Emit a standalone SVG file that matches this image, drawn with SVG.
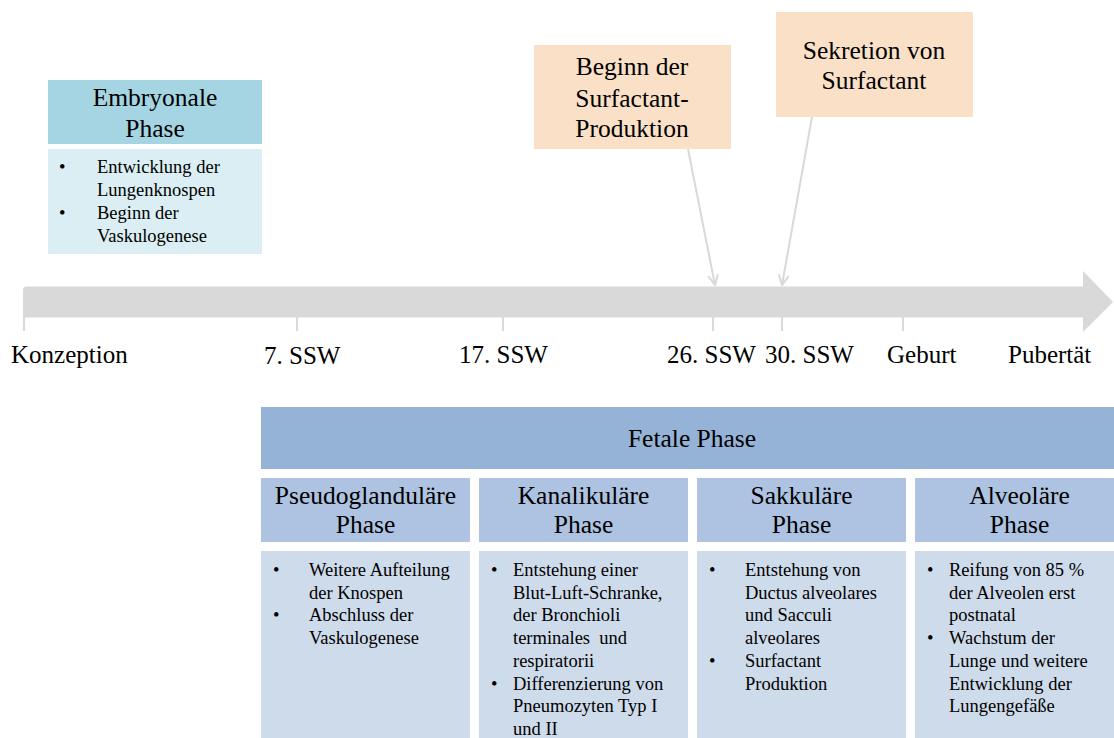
<svg xmlns="http://www.w3.org/2000/svg" width="1114" height="738" viewBox="0 0 1114 738">
<style>
text{font-family:"Liberation Serif","Times New Roman",serif;fill:#000}
.h{font-size:25.5px;text-anchor:middle}
.b{font-size:18.5px}
.lbl{font-size:25px}
.conn{stroke:#d9d9d9;stroke-width:2;fill:none}
</style>
<defs>
<marker id="ah" viewBox="0 0 12 12" refX="11" refY="6" markerWidth="12" markerHeight="12" markerUnits="userSpaceOnUse" orient="auto">
<path d="M1,1 L11,6 L1,11" fill="none" stroke="#d9d9d9" stroke-width="2"/>
</marker>
</defs>
<rect width="1114" height="738" fill="#fff"/>

<g id="timeline">
<path d="M23,290 Q23,286.5 27,286.5 L1083,286.5 L1083,271 L1113,302 L1083,332 L1083,317.5 L23,317.5 Z" fill="#d9d9d9"/>
<g stroke="#d9d9d9" stroke-width="2">
<line x1="24" y1="317" x2="24" y2="331"/>
<line x1="297" y1="317" x2="297" y2="331"/>
<line x1="503" y1="317" x2="503" y2="331"/>
<line x1="713" y1="317" x2="713" y2="331"/>
<line x1="782" y1="317" x2="782" y2="331"/>
<line x1="903" y1="317" x2="903" y2="331"/>
</g>
<text class="lbl" x="11" y="363">Konzeption</text>
<text class="lbl" x="264" y="364">7. SSW</text>
<text class="lbl" x="459" y="363">17. SSW</text>
<text class="lbl" x="667" y="363">26. SSW</text>
<text class="lbl" x="765" y="363">30. SSW</text>
<text class="lbl" x="887" y="363">Geburt</text>
<text class="lbl" x="1008" y="363">Pubertät</text>
</g>

<g id="embryonale">
<rect x="48" y="80" width="214" height="64" fill="#a5d5e2"/>
<text class="h" x="155" y="106">Embryonale</text>
<text class="h" x="155" y="137">Phase</text>
<rect x="48" y="149" width="214" height="105" fill="#dbeef3"/>
<text class="b" x="59" y="173">•</text>
<text class="b" x="97" y="173">Entwicklung der</text>
<text class="b" x="97" y="196">Lungenknospen</text>
<text class="b" x="59" y="219">•</text>
<text class="b" x="97" y="219">Beginn der</text>
<text class="b" x="97" y="242">Vaskulogenese</text>
</g>

<g id="beginn-surfactant">
<rect x="534" y="45" width="197" height="104" fill="#fbe0c8"/>
<text class="h" x="632" y="75">Beginn der</text>
<text class="h" x="632" y="107">Surfactant-</text>
<text class="h" x="632" y="137">Produktion</text>
</g>

<g id="sekretion-surfactant">
<rect x="776" y="12" width="197" height="105" fill="#fbe0c8"/>
<text class="h" x="874" y="59">Sekretion von</text>
<text class="h" x="874" y="89">Surfactant</text>
</g>

<g id="connectors">
<line class="conn" x1="688" y1="149" x2="715" y2="285" marker-end="url(#ah)"/>
<line class="conn" x1="812" y1="117" x2="782" y2="285" marker-end="url(#ah)"/>
</g>

<g id="fetale">
<rect x="261" y="407" width="853" height="62" fill="#95b3d7"/>
<text class="h" x="692" y="447">Fetale Phase</text>
</g>

<g id="pseudoglandulaere">
<rect x="261" y="478" width="209" height="64" fill="#adc3e1"/>
<text class="h" x="365.5" y="504">Pseudoglanduläre</text>
<text class="h" x="365.5" y="533">Phase</text>
<rect x="261" y="551" width="209" height="187" fill="#cedbeb"/>
<text class="b" x="273" y="576">•</text>
<text class="b" x="309" y="576">Weitere Aufteilung</text>
<text class="b" x="309" y="599">der Knospen</text>
<text class="b" x="273" y="621">•</text>
<text class="b" x="309" y="621">Abschluss der</text>
<text class="b" x="309" y="644">Vaskulogenese</text>
</g>

<g id="kanalikulaere">
<rect x="479" y="478" width="209" height="64" fill="#adc3e1"/>
<text class="h" x="583.5" y="504">Kanalikuläre</text>
<text class="h" x="583.5" y="533">Phase</text>
<rect x="479" y="551" width="209" height="187" fill="#cedbeb"/>
<text class="b" x="491" y="576">•</text>
<text class="b" x="513" y="576">Entstehung einer</text>
<text class="b" x="513" y="599">Blut-Luft-Schranke,</text>
<text class="b" x="513" y="621">der Bronchioli</text>
<text class="b" x="513" y="644" xml:space="preserve">terminales  und</text>
<text class="b" x="513" y="667">respiratorii</text>
<text class="b" x="491" y="690">•</text>
<text class="b" x="513" y="690">Differenzierung von</text>
<text class="b" x="513" y="712">Pneumozyten Typ I</text>
<text class="b" x="513" y="735">und II</text>
</g>

<g id="sakkulaere">
<rect x="697" y="478" width="209" height="64" fill="#adc3e1"/>
<text class="h" x="801.5" y="504">Sakkuläre</text>
<text class="h" x="801.5" y="533">Phase</text>
<rect x="697" y="551" width="209" height="187" fill="#cedbeb"/>
<text class="b" x="709" y="576">•</text>
<text class="b" x="745" y="576">Entstehung von</text>
<text class="b" x="745" y="599">Ductus alveolares</text>
<text class="b" x="745" y="621">und Sacculi</text>
<text class="b" x="745" y="644">alveolares</text>
<text class="b" x="709" y="667">•</text>
<text class="b" x="745" y="667">Surfactant</text>
<text class="b" x="745" y="690">Produktion</text>
</g>

<g id="alveolaere">
<rect x="915" y="478" width="199" height="64" fill="#adc3e1"/>
<text class="h" x="1019.5" y="504">Alveoläre</text>
<text class="h" x="1019.5" y="533">Phase</text>
<rect x="915" y="551" width="199" height="187" fill="#cedbeb"/>
<text class="b" x="927" y="576">•</text>
<text class="b" x="949" y="576">Reifung von 85 %</text>
<text class="b" x="949" y="599">der Alveolen erst</text>
<text class="b" x="949" y="621">postnatal</text>
<text class="b" x="927" y="644">•</text>
<text class="b" x="949" y="644">Wachstum der</text>
<text class="b" x="949" y="667">Lunge und weitere</text>
<text class="b" x="949" y="690">Entwicklung der</text>
<text class="b" x="949" y="712">Lungengefäße</text>
</g>
</svg>
